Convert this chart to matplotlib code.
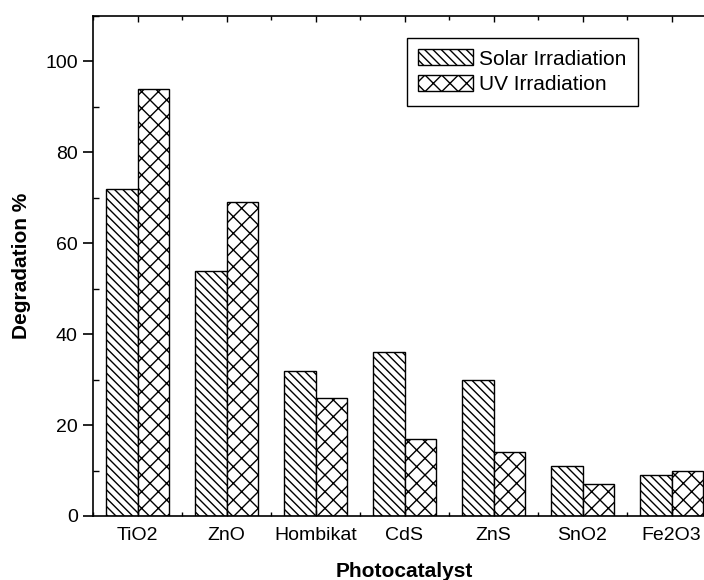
import numpy as np
import matplotlib
matplotlib.use("Agg")
from matplotlib import pyplot as plt
from matplotlib.ticker import MultipleLocator

plt.rcParams["font.family"] = ["Liberation Sans", "DejaVu Sans"]
plt.rcParams["hatch.linewidth"] = 1.0

# valores
catalisadores = ["TiO2", "ZnO", "Hombikat", "CdS", "ZnS", "SnO2", "Fe2O3"]
solar = [72, 54, 32, 36, 30, 11, 9]
uv = [94, 69, 26, 17, 14, 7, 10]

fig = plt.figure(figsize=(7.04, 5.8), dpi=100)
# o eixo passa da borda direita da figura, como no original
ax = fig.add_axes([93 / 704, 64 / 580, 623 / 704, 500 / 580])

x = np.arange(len(catalisadores))
largura = 0.35

# barras com hachura diagonal
ax.bar(
    x - largura / 2,
    solar,
    largura,
    label="Solar Irradiation",
    facecolor="white",
    edgecolor="black",
    linewidth=1.0,
    hatch="\\\\\\\\",
)

# barras com hachura cruzada
ax.bar(
    x + largura / 2,
    uv,
    largura,
    label="UV Irradiation",
    facecolor="white",
    edgecolor="black",
    linewidth=1.0,
    hatch="xx",
)

ax.set_xlim(-0.5, 6.5)
ax.set_ylim(0, 110)
ax.set_xticks(x)
ax.set_xticklabels(catalisadores)
ax.xaxis.set_minor_locator(MultipleLocator(1, offset=0.5))
ax.yaxis.set_major_locator(MultipleLocator(20))
ax.yaxis.set_minor_locator(MultipleLocator(10))

for lado in ax.spines.values():
    lado.set_linewidth(1.2)

ax.tick_params(axis="y", which="major", direction="out", length=7, width=1.2, labelsize=14, pad=4)
ax.tick_params(axis="y", which="minor", direction="in", length=4, width=1.0)
ax.tick_params(axis="x", which="major", direction="in", length=4, width=1.0, labelsize=14, pad=8, top=True)
ax.tick_params(axis="x", which="minor", direction="in", length=3, width=1.0, top=True)

ax.set_xlabel("Photocatalyst", fontsize=15, fontweight="bold", labelpad=13)
ax.set_ylabel("Degradation %", fontsize=15, fontweight="bold", labelpad=10)

leg = ax.legend(
    loc="upper left",
    bbox_to_anchor=(407 / 704, 1 - 38 / 580),
    bbox_transform=fig.transFigure,
    prop={"size": 15},
    fancybox=False,
    framealpha=1,
    edgecolor="black",
    handlelength=2.6,
    handleheight=0.8,
    handletextpad=0.3,
    labelspacing=0.3,
    borderpad=0.55,
    borderaxespad=0,
)
leg.get_frame().set_linewidth(1.0)

plt.savefig("out.png", dpi=100)
